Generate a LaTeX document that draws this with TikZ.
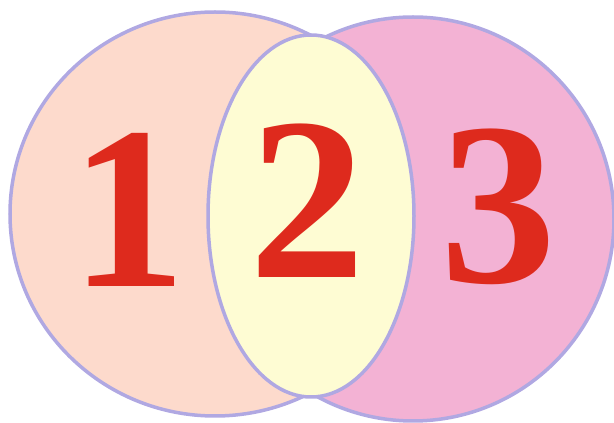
\documentclass[tikz,border=0pt]{standalone}
\usepackage{fontspec}
\newfontfamily\numfont{Liberation Serif}[BoldFont={Liberation Serif Bold}]
\definecolor{rim}{RGB}{176,168,226}
\definecolor{peach}{RGB}{253,218,204}
\definecolor{rose}{RGB}{243,178,212}
\definecolor{cream}{RGB}{254,252,211}
\definecolor{digit}{RGB}{222,42,29}
\usetikzlibrary{positioning}
\tikzset{
  region/.style={draw=rim,line width=3.5pt},
  numeral/.style={text=digit,font=\numfont\bfseries\fontsize{232}{232}\selectfont,inner sep=0pt,anchor=base}
}

\begin{document}
\begin{tikzpicture}[x=1pt,y=1pt]
        \useasboundingbox (0,0) rectangle (614,423);
        % outer sets
        \draw[region,fill=peach] (215,209) ellipse (205 and 202);
        \draw[region,fill=rose] (413,204) ellipse (201 and 202);
        % overlap
        \draw[region,fill=cream] (311,207) ellipse (103 and 181);
        \node[numeral] (one) at (128,136){1};
        \node[numeral] (two) at (307,145){2};
        \node[numeral] (three) at (498,140){3};
      \end{tikzpicture}
\end{document}
